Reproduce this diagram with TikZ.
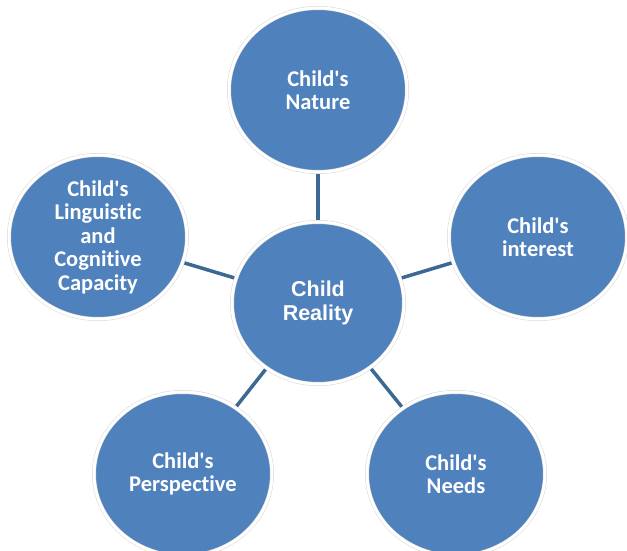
\documentclass[tikz,border=0pt]{standalone}
\usepackage{fontspec}
\setmainfont{Carlito}[Ligatures={NoCommon,NoContextual}]
\newfontfamily\arialfont{Liberation Sans}
\usepackage{tikz}
\usetikzlibrary{shapes.geometric, positioning}
\definecolor{colorBubble}{HTML}{4F81BD}
\definecolor{colorLink}{HTML}{3C6894}
\definecolor{colorRim}{HTML}{D6D6D6}
\newcommand{\apos}{\textquotesingle}
\tikzset{bubble/.style={ellipse, fill=colorBubble, draw=colorRim, double=white, double distance=3pt, line width=0.5pt, outer sep=2pt, minimum width=178pt, minimum height=164pt, inner sep=0pt, align=center, text=white, font=\fontsize{22.5}{23.5}\selectfont\bfseries}}

\begin{document}
\begin{tikzpicture}[link/.style={colorLink, line width=3.5pt}]
\useasboundingbox (0,0) rectangle (627pt,-551pt);
\node[bubble, minimum width=172pt, minimum height=162pt, font=\arialfont\fontsize{21.5}{23.5}\selectfont\bfseries] (reality) at (318pt,-303pt) {Child\\Reality};
\node[bubble, above=46pt of reality] (nature) {Child\apos s\\Nature};
\node[bubble, left=41pt of reality, yshift=66pt] (linguistic) {Child\apos s\\Linguistic\\and\\Cognitive\\Capacity};
\node[bubble, right=41pt of reality, yshift=66pt] (interest) {Child\apos s\\interest};
\node[bubble, below=4pt of reality, xshift=-135pt] (perspective) {Child\apos s\\Perspective};
\node[bubble, below=4pt of reality, xshift=138pt] (needs) {Child\apos s\\Needs};
\draw[link] (reality) -- (nature);
\draw[link] (reality) -- (linguistic);
\draw[link] (reality) -- (interest);
\draw[link] (reality) -- (perspective);
\draw[link] (reality) -- (needs);
\end{tikzpicture}
\end{document}
